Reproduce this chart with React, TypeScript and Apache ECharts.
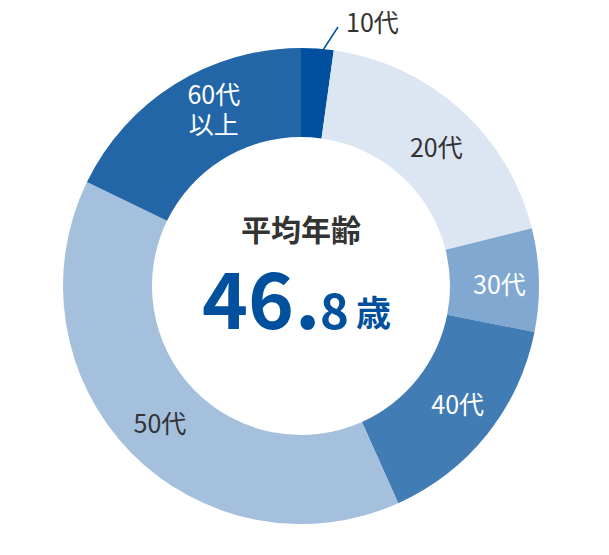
import { useEffect, useRef } from "react";
import * as echarts from "echarts";

// Age distribution donut with the average age in the hole

const AGE_GROUPS = ["10代", "20代", "30代", "40代", "50代", "60代\n以上"];
const SHARES = [2.2, 18.9, 7.0, 15.2, 38.9, 17.8];
const SLICE_COLORS = ["#00509e", "#dce6f2", "#80a8d0", "#417cb4", "#a4c0dc", "#2266a8"];
const LABEL_COLORS = ["#333333", "#333333", "#ffffff", "#ffffff", "#333333", "#ffffff"];

const AVG_TITLE = "平均年齢";
const AVG_INT = "46";
const AVG_DOT = ".";
const AVG_DEC = "8";
const AVG_UNIT = "歳";

const FONT = "'Noto Sans CJK JP', 'Noto Sans', sans-serif";
const BLUE = "#00509e";

// nudges for the inside labels [dx, dy]
const LABEL_NUDGE: Record<number, [number, number]> = {
  1: [4, 6],
  2: [2, 2],
  3: [3, -5],
  4: [0, -1],
  5: [17, -11],
};

export default function App() {
  const chartRef = useRef<HTMLDivElement>(null);

  useEffect(() => {
    if (!chartRef.current) return;
    const chart = echarts.init(chartRef.current, null, { renderer: "svg" });

    const data = AGE_GROUPS.map((name, i) => ({
      name,
      value: SHARES[i],
      itemStyle: { color: SLICE_COLORS[i] },
      label: i === 0
        ? { position: "outside" as const, color: LABEL_COLORS[i] }
        : { color: LABEL_COLORS[i] },
      labelLine: i === 0
        ? { show: true, lineStyle: { color: BLUE, width: 1.5 } }
        : { show: false },
    }));

    const option: echarts.EChartsOption = {
      animation: false,
      textStyle: { fontFamily: FONT },
      series: [
        {
          type: "pie",
          center: [301, 286],
          radius: [149, 238],
          startAngle: 90,
          clockwise: true,
          silent: true,
          avoidLabelOverlap: false,
          label: {
            show: true,
            position: "inside",
            fontFamily: FONT,
            fontSize: 25,
            lineHeight: 30,
            formatter: "{b}",
          },
          labelLayout: (params: any) => {
            if (params.dataIndex === 0) {
              return {
                x: 346,
                y: 21,
                align: "left",
                verticalAlign: "middle",
                labelLinePoints: [[323, 50], [338, 27], [338, 27]],
              };
            }
            const n = LABEL_NUDGE[params.dataIndex];
            return n ? { dx: n[0], dy: n[1] } : {};
          },
          data,
        },
      ],
      graphic: [
        {
          type: "text",
          x: 301,
          y: 228,
          style: {
            text: AVG_TITLE,
            fill: "#333333",
            font: `bold 30px ${FONT}`,
            lineHeight: 32,
            align: "center",
            verticalAlign: "middle",
          },
        },
        {
          type: "text",
          x: 294,
          y: 295,
          style: {
            text: AVG_INT,
            fill: BLUE,
            font: `bold 78px ${FONT}`,
            lineHeight: 60,
            align: "right",
            verticalAlign: "middle",
          },
        },
        {
          type: "text",
          x: 295,
          y: 295,
          style: {
            text: AVG_DOT,
            fill: BLUE,
            font: `bold 78px ${FONT}`,
            lineHeight: 60,
            align: "left",
            verticalAlign: "middle",
          },
        },
        {
          type: "text",
          x: 320,
          y: 307,
          style: {
            text: AVG_DEC,
            fill: BLUE,
            font: `bold 49px ${FONT}`,
            lineHeight: 40,
            align: "left",
            verticalAlign: "middle",
          },
        },
        {
          type: "text",
          x: 356,
          y: 310,
          style: {
            text: AVG_UNIT,
            fill: BLUE,
            font: `bold 35px ${FONT}`,
            lineHeight: 36,
            align: "left",
            verticalAlign: "middle",
          },
        },
      ],
    };

    chart.setOption(option);
    return () => chart.dispose();
  }, []);

  return (
    <>
      <style>{"body{margin:0}"}</style>
      <div ref={chartRef} style={{ width: 609, height: 555 }} />
    </>
  );
}
